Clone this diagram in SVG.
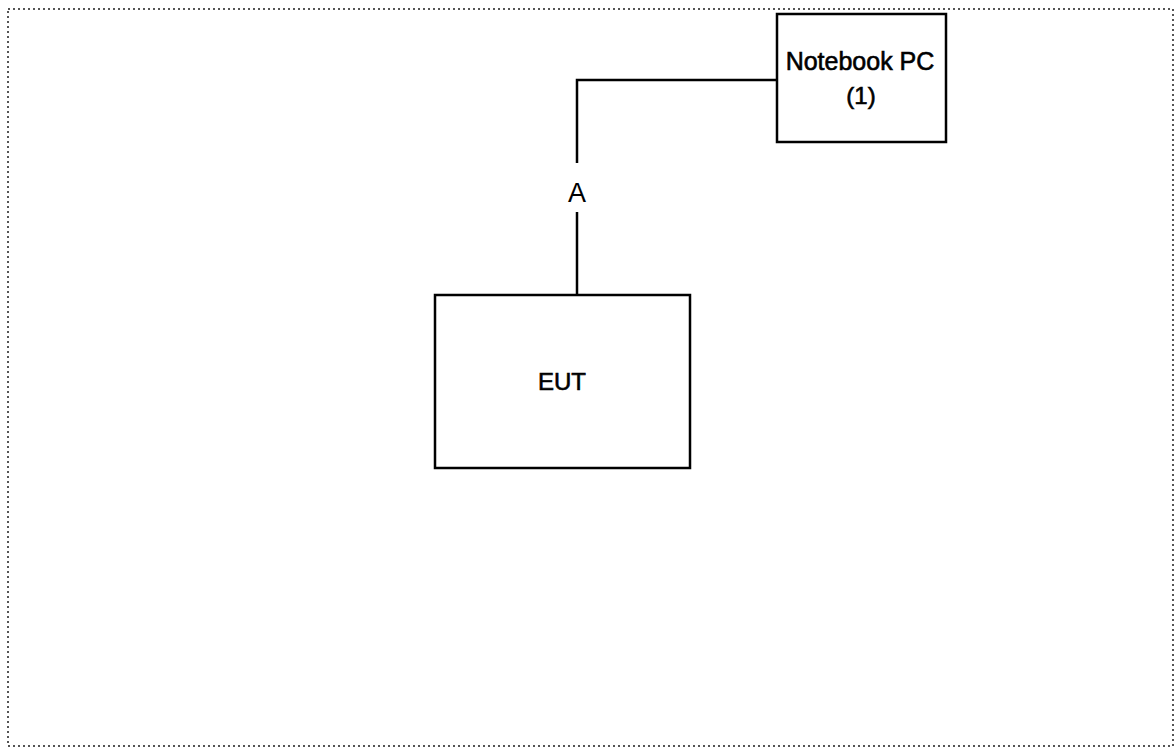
<svg xmlns="http://www.w3.org/2000/svg" width="1176" height="749" viewBox="0 0 1176 749">
<style>
.frame{fill:none;stroke:#555;stroke-width:2;stroke-dasharray:2 3}
.box{fill:#fff;stroke:#000;stroke-width:2.5}
.wire{fill:none;stroke:#000;stroke-width:2.5}
.lbl{font-family:"Liberation Sans",Arial,sans-serif;fill:#000;text-anchor:middle}
.semi{stroke:#000;stroke-width:0.6}
</style>
<rect width="1176" height="749" fill="#fff"/>
<rect class="frame" x="8" y="9" width="1165" height="737"/>
<g id="connectors">
<polyline class="wire" points="777,80 577,80 577,163"/>
<line class="wire" x1="577" y1="212" x2="577" y2="295"/>
<text class="lbl" x="577" y="202" font-size="27">A</text>
</g>
<g id="notebook">
<rect class="box" x="777" y="14" width="169" height="128"/>
<text class="lbl semi" x="860" y="70" font-size="25">Notebook PC</text>
<text class="lbl semi" x="861" y="104" font-size="24">(1)</text>
</g>
<g id="eut">
<rect class="box" x="435" y="295" width="255" height="173"/>
<text class="lbl semi" x="562" y="390" font-size="24">EUT</text>
</g>
</svg>
